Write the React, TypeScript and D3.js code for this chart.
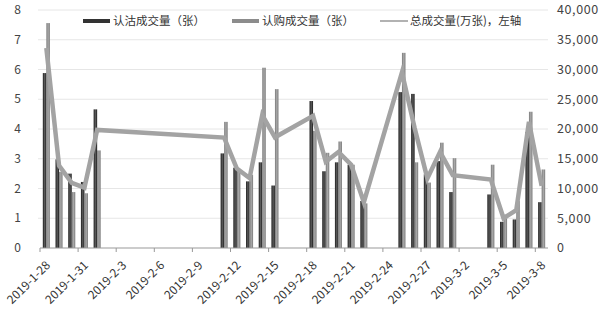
import React, { useEffect, useRef } from 'react';
import * as d3 from 'd3';

// trading days (Spring Festival gap 2-4 .. 2-8)
const days = [
  '2019-01-28', '2019-01-29', '2019-01-30', '2019-01-31', '2019-02-01',
  '2019-02-11', '2019-02-12', '2019-02-13', '2019-02-14', '2019-02-15',
  '2019-02-18', '2019-02-19', '2019-02-20', '2019-02-21', '2019-02-22',
  '2019-02-25', '2019-02-26', '2019-02-27', '2019-02-28', '2019-03-01',
  '2019-03-04', '2019-03-05', '2019-03-06', '2019-03-07', '2019-03-08',
];

// 认沽成交量（张）
const putVol = [
  29400, 14900, 12500, 11100, 23300,
  15900, 13500, 11200, 14400, 10500,
  24700, 12900, 14400, 14000, 7900,
  26200, 25900, 12400, 14600, 9400,
  9000, 4400, 4800, 19500, 7700,
];

// 认购成交量（张）
const callVol = [
  37800, 12800, 9400, 9200, 16400,
  21200, 13200, 12300, 30300, 26700,
  19700, 16000, 17900, 14000, 7500,
  32800, 14400, 11000, 17700, 15100,
  14000, 5600, 7900, 22900, 13200,
];

// 总成交量（万张）
const totalVol = [
  6.72, 2.77, 2.19, 2.03, 3.97,
  3.71, 2.67, 2.35, 4.47, 3.72,
  4.44, 2.9, 3.23, 2.8, 1.54,
  5.9, 4.03, 2.34, 3.23, 2.45,
  2.3, 1.0, 1.27, 4.24, 2.09,
];

const leftTicks = [0, 1, 2, 3, 4, 5, 6, 7, 8];
const rightTicks = [0, 5000, 10000, 15000, 20000, 25000, 30000, 35000, 40000];

const seriesNames = ['认沽成交量（张）', '认购成交量（张）', '总成交量(万张)，左轴'];

const App = () => {
  const svgRef = useRef<SVGSVGElement>(null);

  useEffect(() => {
    const svg = d3.select(svgRef.current);
    svg.selectAll('*').remove();

    const width = 600, height = 313;
    const margin = { top: 10, right: 52, bottom: 65, left: 40 };
    const parse = d3.timeParse('%Y-%m-%d');
    const dates = days.map(d => parse(d) as Date);
    const start = parse('2019-01-28') as Date;
    const end = parse('2019-03-09') as Date;

    const x = d3.scaleTime().domain([start, end]).range([margin.left, width - margin.right]);
    const dayW = x(d3.timeDay.offset(start, 1)) - x(start);
    const inner = d3.scaleBand().domain(['put', 'call']).range([0, dayW]).paddingOuter(0.8);

    const yL = d3.scaleLinear().domain([0, 8]).range([height - margin.bottom, margin.top]);
    const yR = d3.scaleLinear().domain([0, 40000]).range([height - margin.bottom, margin.top]);

    const font = '"Noto Sans CJK SC", "Noto Sans", sans-serif';

    const defs = svg.append('defs');
    const grad = (id, edge, mid) => {
      const g = defs.append('linearGradient').attr('id', id).attr('x1', 0).attr('x2', 1).attr('y1', 0).attr('y2', 0);
      g.append('stop').attr('offset', '0%').attr('stop-color', edge);
      g.append('stop').attr('offset', '50%').attr('stop-color', mid);
      g.append('stop').attr('offset', '100%').attr('stop-color', edge);
    };
    grad('gPut', '#1e1e1e', '#5a5a5a');
    grad('gCall', '#7a7a7a', '#a8a8a8');

    // grid
    svg.append('g')
      .selectAll('line')
      .data(leftTicks.slice(1))
      .enter()
      .append('line')
      .attr('x1', margin.left - 2)
      .attr('x2', width - margin.right)
      .attr('y1', d => yL(d))
      .attr('y2', d => yL(d))
      .attr('stroke', '#e6e6e6')
      .attr('stroke-width', 1);

    // left axis labels
    svg.append('g')
      .selectAll('text')
      .data(leftTicks)
      .enter()
      .append('text')
      .attr('x', 21)
      .attr('y', d => yL(d))
      .attr('dy', '0.35em')
      .attr('text-anchor', 'end')
      .attr('font-family', font)
      .attr('font-size', 12)
      .attr('fill', '#444')
      .text(d => d);

    // right axis labels
    svg.append('g')
      .selectAll('text')
      .data(rightTicks)
      .enter()
      .append('text')
      .attr('x', 557)
      .attr('y', d => yR(d))
      .attr('dy', '0.35em')
      .attr('font-family', font)
      .attr('font-size', 12.5)
      .attr('letter-spacing', 0.6)
      .attr('fill', '#444')
      .text(d => d3.format(',')(d));

    // bars
    const bars = svg.append('g');
    bars.selectAll('.put')
      .data(dates)
      .enter()
      .append('rect')
      .attr('x', (d, i) => x(d) + (inner('put') as number))
      .attr('y', (d, i) => yR(putVol[i]))
      .attr('width', inner.bandwidth())
      .attr('height', (d, i) => yR(0) - yR(putVol[i]))
      .attr('fill', 'url(#gPut)');
    bars.selectAll('.call')
      .data(dates)
      .enter()
      .append('rect')
      .attr('x', (d, i) => x(d) + (inner('call') as number))
      .attr('y', (d, i) => yR(callVol[i]))
      .attr('width', inner.bandwidth())
      .attr('height', (d, i) => yR(0) - yR(callVol[i]))
      .attr('fill', 'url(#gCall)');

    // x axis
    const ticks = d3.timeDay.range(start, d3.timeDay.offset(end, 1), 3);
    const axis = svg.append('g').attr('transform', `translate(0,${height - margin.bottom})`);
    axis.append('line')
      .attr('x1', margin.left)
      .attr('x2', width - margin.right)
      .attr('stroke', '#999');
    axis.selectAll('.tick')
      .data(ticks)
      .enter()
      .append('line')
      .attr('x1', d => x(d))
      .attr('x2', d => x(d))
      .attr('y1', 0)
      .attr('y2', 4)
      .attr('stroke', '#999');
    axis.selectAll('text')
      .data(ticks)
      .enter()
      .append('text')
      .attr('transform', d => `translate(${x(d) + 8},${15}) rotate(-45)`)
      .attr('text-anchor', 'end')
      .attr('dy', '0.35em')
      .attr('font-family', font)
      .attr('font-size', 12)
      .attr('fill', '#333')
      .text(d => d3.timeFormat('%Y-%-m-%-d')(d));

    // total line
    const line = d3.line<Date>()
      .x(d => x(d) + dayW / 2)
      .y((d, i) => yL(totalVol[i]));
    svg.append('path')
      .datum(dates)
      .attr('d', line)
      .attr('fill', 'none')
      .attr('stroke', '#a3a3a3')
      .attr('stroke-width', 4.5);

    // legend
    const legend = svg.append('g').attr('font-family', font).attr('font-size', 11.5).attr('fill', '#333');
    legend.append('rect').attr('x', 83).attr('y', 19).attr('width', 27).attr('height', 4).attr('fill', '#333');
    legend.append('text').attr('x', 113).attr('y', 21).attr('dy', '0.35em').text(seriesNames[0]);
    legend.append('rect').attr('x', 232).attr('y', 19).attr('width', 27).attr('height', 4).attr('fill', '#8c8c8c');
    legend.append('text').attr('x', 262).attr('y', 21).attr('dy', '0.35em').text(seriesNames[1]);
    legend.append('line').attr('x1', 380).attr('x2', 408).attr('y1', 21).attr('y2', 21).attr('stroke', '#999').attr('stroke-width', 1.5);
    legend.append('text').attr('x', 410).attr('y', 21).attr('dy', '0.35em').text(seriesNames[2]);
  }, []);

  return (
    <svg
      ref={svgRef}
      width={600}
      height={313}
      style={{ position: 'fixed', left: 0, top: 0, background: '#fff' }}
    />
  );
};

export default App;
